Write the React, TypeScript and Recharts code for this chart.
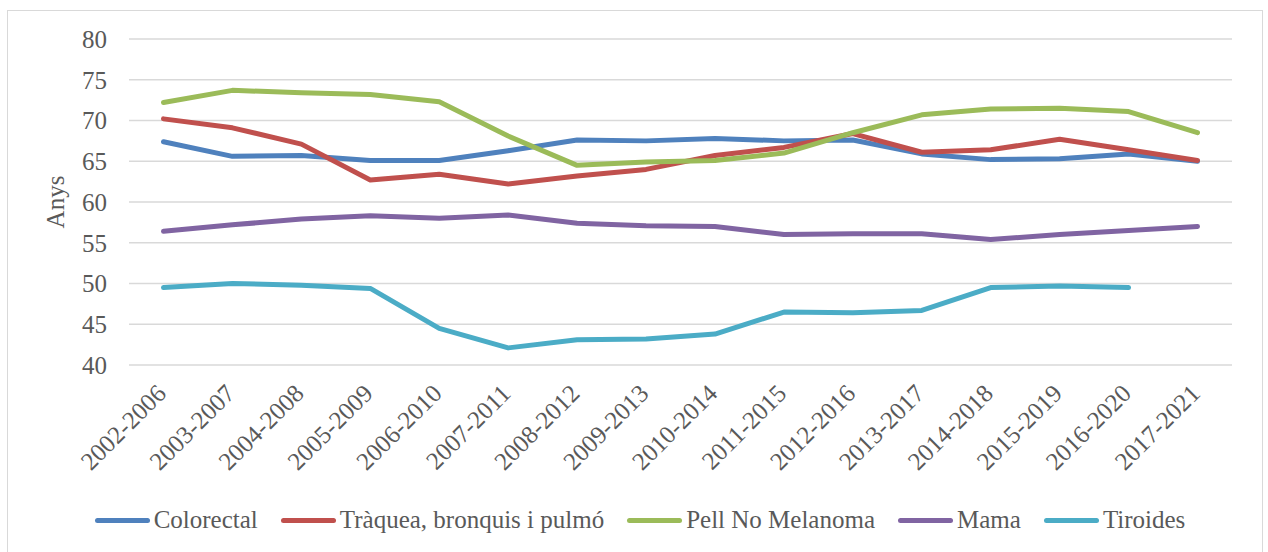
import { LineChart, Line, XAxis, YAxis, CartesianGrid } from 'recharts'

const periods = [
  '2002-2006', '2003-2007', '2004-2008', '2005-2009', '2006-2010', '2007-2011',
  '2008-2012', '2009-2013', '2010-2014', '2011-2015', '2012-2016', '2013-2017',
  '2014-2018', '2015-2019', '2016-2020', '2017-2021',
]

const colorectal = [67.4, 65.6, 65.7, 65.1, 65.1, 66.3, 67.6, 67.5, 67.8, 67.5, 67.6, 65.9, 65.2, 65.3, 65.9, 65.0]
const traquea = [70.2, 69.1, 67.1, 62.7, 63.4, 62.2, 63.2, 64.0, 65.7, 66.7, 68.4, 66.1, 66.4, 67.7, 66.4, 65.1]
const pell = [72.2, 73.7, 73.4, 73.2, 72.3, 68.1, 64.5, 64.9, 65.1, 66.0, 68.5, 70.7, 71.4, 71.5, 71.1, 68.5]
const mama = [56.4, 57.2, 57.9, 58.3, 58.0, 58.4, 57.4, 57.1, 57.0, 56.0, 56.1, 56.1, 55.4, 56.0, 56.5, 57.0]
const tiroides: (number | null)[] = [49.5, 50.0, 49.8, 49.4, 44.5, 42.1, 43.1, 43.2, 43.8, 46.5, 46.4, 46.7, 49.5, 49.7, 49.5, null]

const yTicks = [40, 45, 50, 55, 60, 65, 70, 75, 80]

const series = [
  { key: 'colorectal', name: 'Colorectal', color: '#4f81bd', values: colorectal },
  { key: 'traquea', name: 'Tràquea, bronquis i pulmó', color: '#c0504d', values: traquea },
  { key: 'pell', name: 'Pell No Melanoma', color: '#9bbb59', values: pell },
  { key: 'mama', name: 'Mama', color: '#8064a2', values: mama },
  { key: 'tiroides', name: 'Tiroides', color: '#4bacc6', values: tiroides },
]

const data = periods.map((period, i) => {
  const row: Record<string, string | number | null> = { period }
  series.forEach(s => { row[s.key] = s.values[i] })
  return row
})

const FONT = '"Liberation Serif", "Times New Roman", serif'
const TEXT = '#595959'

function PeriodTick({ x, y, payload }: any) {
  const tx = x + 4
  const ty = y + 30
  return (
    <text
      x={tx}
      y={ty}
      textAnchor="end"
      transform={`rotate(-45 ${tx} ${ty})`}
      fontFamily={FONT}
      fontSize={25}
      fill={TEXT}
    >
      {payload.value}
    </text>
  )
}

export default function App() {
  return (
    <div style={{ position: 'absolute', left: 0, top: 0, width: 1268, height: 552, background: '#fff', overflow: 'hidden' }}>
      <div style={{ position: 'absolute', left: 7, top: 10, width: 1254, height: 560, border: '1px solid #d9d9d9' }} />
      <LineChart width={1268} height={552} data={data} margin={{ top: 39, right: 36, bottom: 0, left: 0 }}>
        <CartesianGrid vertical={false} stroke="#d9d9d9" strokeWidth={1.5} />
        <XAxis
          dataKey="period"
          interval={0}
          height={187}
          axisLine={false}
          tickLine={false}
          tickSize={0}
          tickMargin={0}
          padding={{ left: 34.5, right: 34.5 }}
          tick={<PeriodTick />}
        />
        <YAxis
          width={129}
          domain={[40, 80]}
          ticks={yTicks}
          axisLine={false}
          tickLine={false}
          tickSize={0}
          tickMargin={22}
          tick={{ fontFamily: FONT, fontSize: 25, fill: TEXT }}
          label={{ value: 'Anys', angle: -90, position: 'insideLeft', offset: 0, dx: 55, style: { fontFamily: FONT, fontSize: 25, fill: TEXT, textAnchor: 'middle' } }}
        />
        {series.map(s => (
          <Line
            key={s.key}
            dataKey={s.key}
            name={s.name}
            stroke={s.color}
            strokeWidth={5}
            strokeLinejoin="round"
            strokeLinecap="round"
            dot={false}
            activeDot={false}
            isAnimationActive={false}
          />
        ))}
      </LineChart>
      <div
        style={{
          position: 'absolute',
          left: 0,
          width: 1280,
          top: 505,
          height: 30,
          display: 'flex',
          justifyContent: 'center',
          alignItems: 'center',
          gap: 23,
          fontFamily: FONT,
          fontSize: 25,
          color: TEXT,
        }}
      >
        {series.map(s => (
          <div key={s.key} style={{ display: 'flex', alignItems: 'center' }}>
            <span style={{ display: 'inline-block', width: 55, height: 5, borderRadius: 3, background: s.color, marginRight: 4 }} />
            <span>{s.name}</span>
          </div>
        ))}
      </div>
    </div>
  )
}
